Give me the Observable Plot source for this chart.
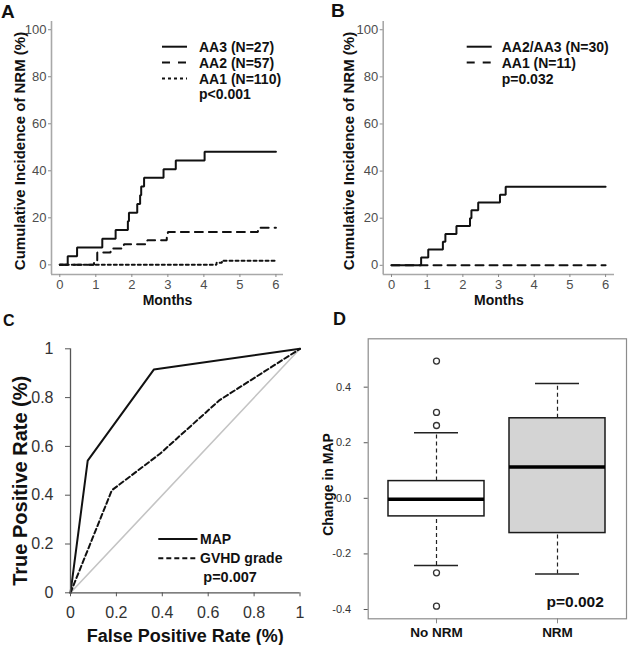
<!DOCTYPE html>
<html><head><meta charset="utf-8">
<script src="https://cdn.jsdelivr.net/npm/d3@7"></script>
<script src="https://cdn.jsdelivr.net/npm/@observablehq/plot@0.6"></script>
<style>
html,body{margin:0;padding:0;background:#fff;}
#root{position:relative;width:630px;height:645px;overflow:hidden;font-family:"Liberation Sans",Arial,Helvetica,sans-serif;}
.panel{position:absolute;}
.panel svg{overflow:visible;background:transparent;}
#overlay{position:absolute;left:0;top:0;pointer-events:none;}
</style></head><body><div id="root"></div>
<script>
// ---------- data ----------
// Panel A: cumulative incidence of NRM (%) by month
const monthTicks = [0, 1, 2, 3, 4, 5, 6];
const cumTicks = [0, 20, 40, 60, 80, 100];
const aa3Months = [0, 0.22, 0.48, 1.18, 1.55, 1.89, 1.92, 2.15, 2.23, 2.26, 2.34, 2.88, 3.22, 4.02, 6];
const aa3Values = [0, 3.7, 7.4, 11.1, 14.8, 18.5, 22.2, 25.9, 29.6, 33.3, 37.0, 40.7, 44.4, 48.1, 48.1];
const aa2Months = [0, 0.95, 1.04, 1.41, 1.78, 2.43, 2.97, 3.0, 5.5, 6];
const aa2Values = [0, 1.8, 5.3, 7.0, 8.8, 10.5, 12.3, 14.0, 15.8, 15.8];
const aa1Months = [0, 4.35, 4.5, 6];
const aa1Values = [0, 0.9, 1.8, 1.8];
const legendA = ["AA3 (N=27)", "AA2 (N=57)", "AA1 (N=110)"];
const pA = "p<0.001";
// Panel B
const aa23Months = [0, 0.83, 1.03, 1.44, 1.51, 1.82, 2.2, 2.24, 2.43, 3.04, 3.2, 6];
const aa23Values = [0, 3.33, 6.67, 10, 13.33, 16.67, 20, 23.33, 26.67, 30, 33.33, 33.33];
const bAa1Months = [0, 6];
const bAa1Values = [0, 0];
const legendB = ["AA2/AA3 (N=30)", "AA1 (N=11)"];
const pB = "p=0.032";
// Panel C: ROC
const rocTicks = [0, 0.2, 0.4, 0.6, 0.8, 1];
const mapFpr = [0, 0.075, 0.363, 1];
const mapTpr = [0, 0.542, 0.915, 1];
const gvhdFpr = [0, 0.18, 0.39, 0.65, 1];
const gvhdTpr = [0, 0.42, 0.57, 0.79, 1];
const chanceFpr = [0, 1];
const chanceTpr = [0, 1];
const legendC = ["MAP", "GVHD grade"];
const pC = "p=0.007";
// Panel D: boxplots of change in MAP
const groups = ["No NRM", "NRM"];
const boxLow = [-0.242, -0.272];
const boxQ1 = [-0.065, -0.125];
const boxMedian = [-0.003, 0.113];
const boxQ3 = [0.062, 0.288];
const boxHigh = [0.236, 0.413];
const outlierGroup = ["No NRM", "No NRM", "No NRM", "No NRM", "No NRM"];
const outlierValues = [0.494, 0.309, 0.262, -0.268, -0.388];
const changeTicks = [-0.4, -0.2, 0.0, 0.2, 0.4];
const pD = "p=0.002";

// ---------- tables ----------
const toRows = (xs, ys, k1, k2) => xs.map((v, i) => ({[k1]: v, [k2]: ys[i]}));
const aa3 = toRows(aa3Months, aa3Values, "month", "ci");
const aa2 = toRows(aa2Months, aa2Values, "month", "ci");
const aa1 = toRows(aa1Months, aa1Values, "month", "ci");
const aa23 = toRows(aa23Months, aa23Values, "month", "ci");
const bAa1 = toRows(bAa1Months, bAa1Values, "month", "ci");
const mapRoc = toRows(mapFpr, mapTpr, "fpr", "tpr");
const gvhdRoc = toRows(gvhdFpr, gvhdTpr, "fpr", "tpr");
const chance = toRows(chanceFpr, chanceTpr, "fpr", "tpr");
const boxes = groups.map((g, i) => ({group: g, low: boxLow[i], q1: boxQ1[i], median: boxMedian[i], q3: boxQ3[i], high: boxHigh[i]}));
const outliers = outlierValues.map((v, i) => ({group: outlierGroup[i], value: v}));

const FONT = '"Liberation Sans", Arial, Helvetica, sans-serif';
const baseStyle = {fontFamily: FONT, background: "transparent", overflow: "visible"};
const root = document.getElementById("root");
function place(svg, left, top) {
  const d = document.createElement("div");
  d.className = "panel";
  d.style.left = left + "px";
  d.style.top = top + "px";
  d.appendChild(svg);
  root.appendChild(d);
}

// ---------- Panels A and B ----------
function kmPanel(xDom, yDom, margins, series, yTitle, titleDx) {
  return Plot.plot({
    width: 315, height: 310, ...margins,
    x: {domain: xDom}, y: {domain: yDom},
    style: baseStyle,
    marks: [
      Plot.ruleX([xDom[0]], {stroke: "#a8a8a8", strokeWidth: 1.6}),
      Plot.ruleY([yDom[0]], {stroke: "#a8a8a8", strokeWidth: 1.6}),
      Plot.axisX(monthTicks, {tickSize: 3, tickPadding: 2, fontSize: 13, stroke: "#8a8a8a", fill: "#4d4d4d", label: null}),
      Plot.axisY(cumTicks, {tickSize: 3, tickPadding: 2, fontSize: 13, stroke: "#8a8a8a", fill: "#4d4d4d", label: null}),
      ...series.map(s => Plot.line(s.data, {x: "month", y: "ci", curve: "step-after", stroke: "#111", strokeWidth: 2, strokeDasharray: s.dash, strokeLinejoin: "miter"})),
      Plot.text(["Months"], {text: d => d, frameAnchor: "bottom", dy: 26, lineAnchor: "middle", fontWeight: "bold", fontSize: 14, fill: "#111"}),
      Plot.text([yTitle], {text: d => d, frameAnchor: "left", rotate: -90, dx: titleDx, dy: 3, lineAnchor: "middle", textAnchor: "middle", fontWeight: "bold", fontSize: 15, fill: "#111"})
    ]
  });
}
const yTitleKM = "Cumulative Incidence of NRM (%)";
place(kmPanel([-0.23, 6.21], [-4.1, 103.5], {marginLeft: 51, marginRight: 32, marginTop: 21, marginBottom: 36},
  [{data: aa1, dash: "3,3"}, {data: aa2, dash: "8,6"}, {data: aa3, dash: null}], yTitleKM, -31.5), 0, 0);
place(kmPanel([-0.233, 6.25], [-3.9, 103.5], {marginLeft: 67.7, marginRight: 16, marginTop: 21, marginBottom: 36},
  [{data: bAa1, dash: "8,6"}, {data: aa23, dash: null}], yTitleKM, -33.7), 315, 0);

// ---------- Panel C ----------
place(Plot.plot({
  width: 315, height: 340, marginLeft: 70, marginRight: 15.5, marginTop: 43.3, marginBottom: 52.7,
  x: {domain: [0, 1]}, y: {domain: [0, 1]},
  style: baseStyle,
  marks: [
    Plot.line(chance, {x: "fpr", y: "tpr", stroke: "#c4c4c4", strokeWidth: 1.6}),
    Plot.line(gvhdRoc, {x: "fpr", y: "tpr", stroke: "#111", strokeWidth: 2, strokeDasharray: "5,3"}),
    Plot.line(mapRoc, {x: "fpr", y: "tpr", stroke: "#111", strokeWidth: 2}),
    Plot.ruleX([0], {stroke: "#555", strokeWidth: 1.3}),
    Plot.ruleY([0], {stroke: "#555", strokeWidth: 1.3}),
    Plot.axisX(rocTicks, {tickSize: 4, tickPadding: 10, fontSize: 16, tickFormat: d => String(d), stroke: "#555", fill: "#333", label: null}),
    Plot.axisY(rocTicks, {tickSize: 5, tickPadding: 12, fontSize: 16, tickFormat: d => String(d), stroke: "#555", fill: "#333", label: null}),
    Plot.text(["False Positive Rate (%)"], {text: d => d, frameAnchor: "bottom", dy: 43, lineAnchor: "middle", fontWeight: "bold", fontSize: 18, fill: "#111"}),
    Plot.text(["True Positive Rate (%)"], {text: d => d, frameAnchor: "left", rotate: -90, dx: -50, dy: 10, lineAnchor: "middle", textAnchor: "middle", fontWeight: "bold", fontSize: 20, fill: "#111"})
  ]
}), 0, 305);

// ---------- Panel D ----------
place(Plot.plot({
  width: 315, height: 340, marginLeft: 52.7, marginRight: 4, marginTop: 33.3, marginBottom: 26.7,
  x: {domain: groups, paddingInner: 0.206, paddingOuter: 0.168},
  y: {domain: [-0.4335, 0.574]},
  style: baseStyle,
  marks: [
    Plot.frame({stroke: "#8c8c8c", strokeWidth: 1.2}),
    Plot.ruleX(boxes, {x: "group", y1: "q3", y2: "high", stroke: "#222", strokeWidth: 1.2, strokeDasharray: "4,3"}),
    Plot.ruleX(boxes, {x: "group", y1: "low", y2: "q1", stroke: "#222", strokeWidth: 1.2, strokeDasharray: "4,3"}),
    Plot.tickY(boxes, {x: "group", y: "high", stroke: "#222", strokeWidth: 1.5, insetLeft: 26, insetRight: 26}),
    Plot.tickY(boxes, {x: "group", y: "low", stroke: "#222", strokeWidth: 1.5, insetLeft: 26, insetRight: 26}),
    Plot.barY(boxes, {x: "group", y1: "q1", y2: "q3", fill: d => d.group === "NRM" ? "#d4d4d4" : "#ffffff", stroke: "#1a1a1a", strokeWidth: 1.5}),
    Plot.tickY(boxes, {x: "group", y: "median", stroke: "#000", strokeWidth: 3.5}),
    Plot.dot(outliers, {x: "group", y: "value", r: 3, stroke: "#333", strokeWidth: 1.3, fill: "#fff"}),
    Plot.axisX(groups, {tickSize: 5, tickPadding: 4, fontSize: 13.5, fontWeight: "bold", stroke: "#888", fill: "#111", label: null}),
    Plot.axisY(changeTicks, {tickSize: 4, tickPadding: 13, fontSize: 11, tickFormat: d => d.toFixed(1), stroke: "#555", fill: "#333", label: null}),
    Plot.text(["Change in MAP"], {text: d => d, frameAnchor: "left", rotate: -90, dx: -39.4, dy: 5.7, lineAnchor: "middle", textAnchor: "middle", fontWeight: "bold", fontSize: 14, fill: "#111"}),
    Plot.text([pD], {text: d => d, frameAnchor: "bottom-right", dx: -22.7, dy: -16.6, lineAnchor: "middle", textAnchor: "end", fontWeight: "bold", fontSize: 15.5, fill: "#111"})
  ]
}), 315, 305);

// ---------- Panel letters and legends ----------
const NS = "http://www.w3.org/2000/svg";
const ov = document.createElementNS(NS, "svg");
ov.setAttribute("id", "overlay");
ov.setAttribute("width", 630);
ov.setAttribute("height", 645);
ov.setAttribute("font-family", FONT);
function addText(x, y, s, size, baseline = "central") {
  const t = document.createElementNS(NS, "text");
  t.setAttribute("x", x); t.setAttribute("y", y);
  t.setAttribute("font-size", size); t.setAttribute("font-weight", "bold");
  t.setAttribute("fill", "#111");
  if (baseline) t.setAttribute("dominant-baseline", baseline);
  t.textContent = s;
  ov.appendChild(t);
}
function addLine(x1, x2, y, dash) {
  const l = document.createElementNS(NS, "line");
  l.setAttribute("x1", x1); l.setAttribute("x2", x2); l.setAttribute("y1", y); l.setAttribute("y2", y);
  l.setAttribute("stroke", "#111"); l.setAttribute("stroke-width", 2);
  if (dash) l.setAttribute("stroke-dasharray", dash);
  ov.appendChild(l);
}
addText(1, 17.5, "A", 19, null);
addText(331, 16.5, "B", 19, null);
addText(3, 326, "C", 16, null);
addText(333, 325, "D", 18, null);
// legend A
const dashA = [null, "8,8", "3,3"];
const rowsA = [46.7, 62.5, 78.5];
legendA.forEach((s, i) => { addLine(162, 187, rowsA[i], dashA[i]); addText(199, rowsA[i], s, 14); });
addText(199, 94.3, pA, 14);
// legend B
const dashB = [null, "8,8"];
legendB.forEach((s, i) => { addLine(466.7, 491.7, rowsA[i], dashB[i]); addText(501.7, rowsA[i], s, 14); });
addText(501.7, 78.5, pB, 14);
// legend C
const dashC = [null, "5,3"];
const rowsC = [539, 558.3];
legendC.forEach((s, i) => { addLine(158.3, 197.5, rowsC[i], dashC[i]); addText(200, rowsC[i], s, 14); });
addText(203.3, 577, pC, 14.5);
root.appendChild(ov);
</script>
</body></html>
